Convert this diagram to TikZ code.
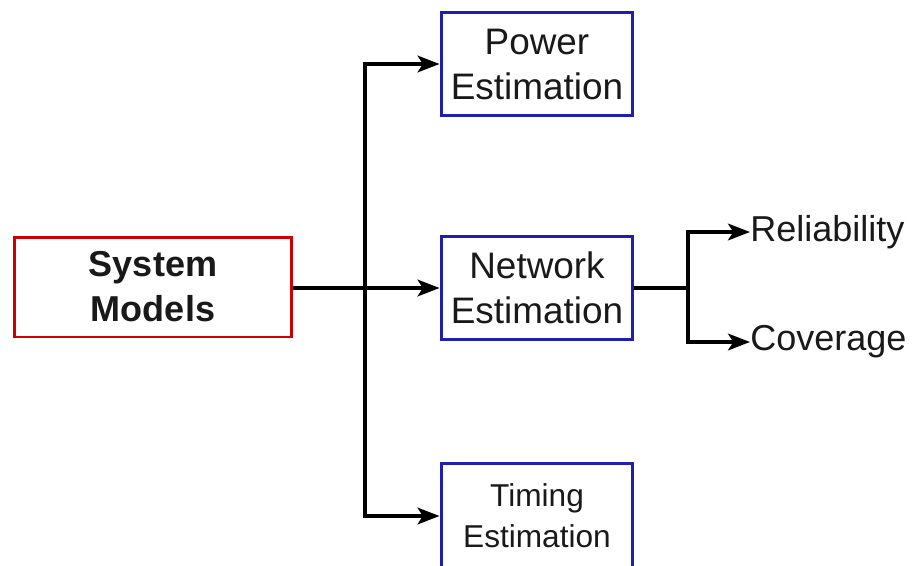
\documentclass[tikz,border=0pt]{standalone}
\usepackage{fontspec}
\setmainfont{Liberation Sans}
\usepackage{xcolor}
\usepackage{tikz}
\usetikzlibrary{arrows.meta}
\definecolor{sysred}{RGB}{204,0,0}
\definecolor{estblue}{RGB}{30,30,175}
\definecolor{txtgray}{RGB}{25,25,25}
\tikzstyle{model} = [rectangle, minimum width=5.56cm, minimum height=2cm, align=center, draw=sysred, line width=1.7pt, text=txtgray, font=\fontsize{20.5pt}{25.6pt}\selectfont\bfseries]
\tikzstyle{estim} = [rectangle, minimum width=3.84cm, minimum height=2.06cm, align=center, draw=estblue, line width=1.7pt, text=txtgray, font=\fontsize{21pt}{25.6pt}\selectfont]
\tikzstyle{arrow} = [line width=1.9pt,-{Stealth[length=12.5pt,width=9.5pt,inset=3pt]}]

\begin{document}
\begin{tikzpicture}[x=0.02cm, y=-0.02cm]
    \tikzset{result/.style = {inner sep=0pt, anchor=west, text=txtgray, font=\fontsize{20.5pt}{24pt}\selectfont},
    line/.style = {line width=1.9pt}}
\useasboundingbox (0,0) rectangle (916,565);

\node (system) [model] at (153,287) {System\\Models};
\node (power) [estim] at (537,64) {Power\\Estimation};
\node (network) [estim] at (537,288) {Network\\Estimation};
\node (timing) [estim, minimum height=2.1cm, font=\fontsize{18pt}{23.3pt}\selectfont] at (537,516) {Timing\\Estimation};

% branch from the system box
\coordinate (split) at (365,288);
\draw [arrow] (system.east |- network.west) -- (network.west);
\draw [arrow] (split) |- (power.west);
\draw [arrow] (split) |- (timing.west);

% network outcomes
\node (reliab) [result] at (750,232) {Reliability};
\node (cover) [result] at (750,342) {Coverage};
\coordinate (njoint) at (688,288);
\draw [line] (network.east |- njoint) -- (njoint);
\draw [arrow] (njoint) |- (reliab.west);
\draw [arrow] (njoint) |- (cover.west);

\end{tikzpicture}
\end{document}
